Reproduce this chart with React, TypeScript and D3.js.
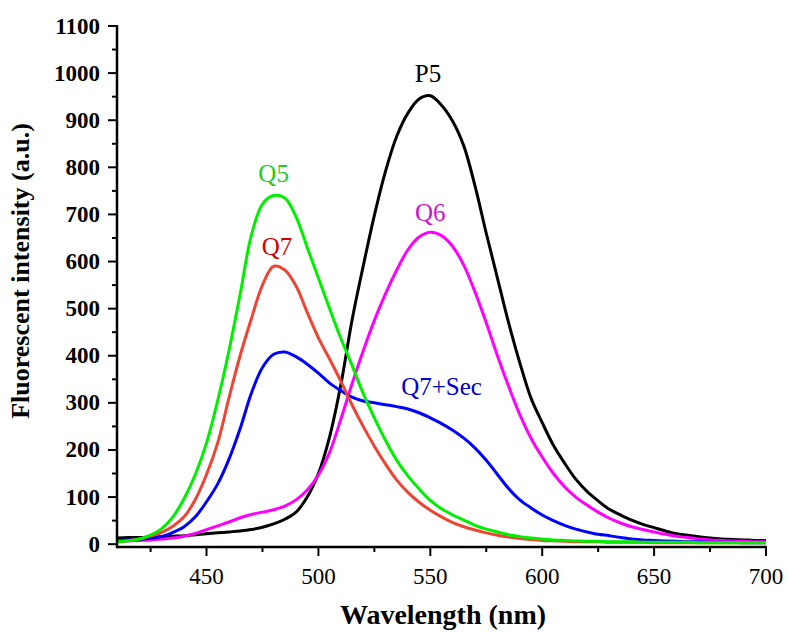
import React from "react";
import * as d3 from "d3";

const wavelengths = d3.range(410, 701, 5);

const p5 = [13,14,14,15,16,17,18,20,22,24,26,28,31,36,43,53,68,100,150,228,338,475,590,698,792,866,915,945,952,932,898,845,760,660,565,470,385,310,258,210,172,138,112,92,74,62,51,42,35,28,22,19,16,13,11,10,9,8,8];
const q6 = [7,7,8,9,11,13,17,23,31,39,47,56,63,68,73,81,94,115,147,195,265,340,410,475,532,582,625,652,662,655,632,592,535,470,400,335,275,225,185,150,122,100,83,68,55,45,37,31,26,21,17,14,11,9,8,7,6,5,5];
const q7sec = [8,9,10,13,16,25,37,58,90,128,180,245,320,375,403,408,398,382,363,342,326,312,304,300,296,292,287,279,268,256,242,225,204,178,148,118,94,77,62,50,40,32,26,21,18,14,11,9,8,7,6,5,5,4,4,4,3,3,3];
const q7 = [6,8,11,17,25,38,58,95,148,215,310,400,478,550,590,582,548,492,438,393,346,296,250,208,170,136,110,89,72,58,46,37,30,24,19,15,12,10,8,7,6,5,5,5,4,4,4,4,3,3,3,3,3,3,3,3,3,3,3];
const q5 = [5,7,11,19,33,58,97,148,215,305,410,530,655,722,740,735,695,630,565,500,437,380,320,268,220,178,145,117,93,75,62,51,40,32,26,20,16,13,11,9,8,7,6,6,5,5,5,4,4,4,4,4,3,3,3,3,3,3,3];

const seriesNames = ["P5", "Q6", "Q7+Sec", "Q7", "Q5"];
const seriesValues = [p5, q6, q7sec, q7, q5];
const lineColors = ["#000000", "#ff00ff", "#0000ff", "#ee4433", "#00ee00"];
const labelColors = ["#000000", "#cc11cc", "#0000cc", "#cc0000", "#22cc22"];
const labelAnchors = [[549, 82], [550, 221], [555, 395], [481.5, 255], [480, 182]]; // [wavelength, pixel baseline]

const xMajorTicks = [450, 500, 550, 600, 650, 700];
const xMinorTicks = [425, 475, 525, 575, 625, 675];
const yMajorTicks = d3.range(0, 1101, 100);
const yMinorTicks = d3.range(50, 1100, 100);

const FONT = "'Liberation Serif', 'Times New Roman', Times, serif";

export default function App() {
  const x = d3.scaleLinear().domain([410, 700]).range([117, 766]);
  const y = d3.scaleLinear().domain([-6, 1100]).range([547, 26]);
  const line = d3
    .line<number>()
    .x((_, i) => x(wavelengths[i]))
    .y((v) => y(v))
    .curve(d3.curveCatmullRom.alpha(0.5));

  const axisY = 547;
  const axisX = 117;
  const ts = { fontFamily: FONT };

  return (
    <svg
      width={788}
      height={632}
      style={{ position: "absolute", left: 0, top: 0, background: "#fff" }}
    >
      <rect width={788} height={632} fill="#fff" />
      {seriesValues.map((vals, k) => (
        <path
          key={seriesNames[k]}
          d={line(vals) || ""}
          fill="none"
          stroke={lineColors[k]}
          strokeWidth={3}
          strokeLinejoin="round"
        />
      ))}
      <line x1={axisX} x2={x(700) + 1} y1={axisY} y2={axisY} stroke="#000" strokeWidth={2.5} />
      <line x1={axisX} x2={axisX} y1={axisY + 1.2} y2={y(1100) - 1} stroke="#000" strokeWidth={2.5} />
      {xMajorTicks.map((t) => (
        <g key={"xM" + t}>
          <line x1={x(t)} x2={x(t)} y1={axisY} y2={axisY + 9} stroke="#000" strokeWidth={2} />
          <text x={x(t)} y={584} textAnchor="middle" fontSize={23} style={ts}>
            {t}
          </text>
        </g>
      ))}
      {xMinorTicks.map((t) => (
        <line key={"xm" + t} x1={x(t)} x2={x(t)} y1={axisY} y2={axisY + 5} stroke="#000" strokeWidth={2} />
      ))}
      {yMajorTicks.map((t) => (
        <g key={"yM" + t}>
          <line x1={axisX - 9} x2={axisX} y1={y(t)} y2={y(t)} stroke="#000" strokeWidth={2} />
          <text x={100} y={y(t) + 7.5} textAnchor="end" fontSize={23} fontWeight="bold" style={ts}>
            {t}
          </text>
        </g>
      ))}
      {yMinorTicks.map((t) => (
        <line key={"ym" + t} x1={axisX - 5} x2={axisX} y1={y(t)} y2={y(t)} stroke="#000" strokeWidth={2} />
      ))}
      <text x={443} y={624} textAnchor="middle" fontSize={28} fontWeight="bold" style={ts}>
        Wavelength (nm)
      </text>
      <text
        transform={`translate(29, 271) rotate(-90)`}
        textAnchor="middle"
        fontSize={26}
        fontWeight="bold"
        style={ts}
      >
        Fluorescent intensity (a.u.)
      </text>
      {seriesNames.map((name, k) => (
        <text
          key={"lab" + name}
          x={x(labelAnchors[k][0])}
          y={labelAnchors[k][1]}
          textAnchor="middle"
          fontSize={25}
          fill={labelColors[k]}
          style={ts}
        >
          {name}
        </text>
      ))}
    </svg>
  );
}
